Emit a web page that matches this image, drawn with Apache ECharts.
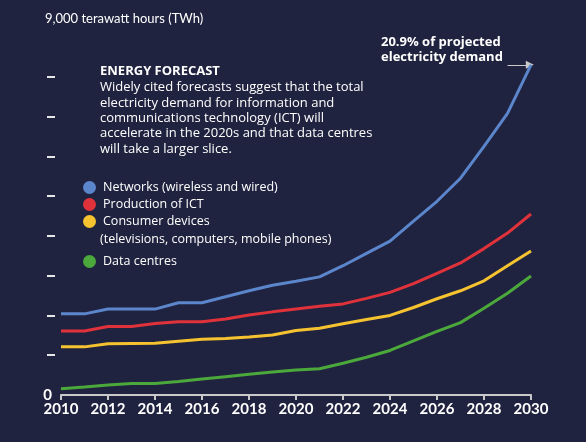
<!DOCTYPE html>
<html>
<head>
<meta charset="utf-8">
<script src="https://cdn.jsdelivr.net/npm/echarts@6/dist/echarts.min.js"></script>
<style>
  html, body { margin: 0; padding: 0; background: #20233f; }
  #chart { width: 586px; height: 442px; }
</style>
</head>
<body>
<div id="chart"></div>
<script>
// data (TWh)
var years = [2010, 2011, 2012, 2013, 2014, 2015, 2016, 2017, 2018, 2019, 2020,
             2021, 2022, 2023, 2024, 2025, 2026, 2027, 2028, 2029, 2030];
var networks = [2040, 2040, 2160, 2160, 2160, 2320, 2320, 2470, 2620, 2760, 2860,
                2970, 3250, 3560, 3870, 4370, 4870, 5450, 6250, 7080, 8300];
var production = [1610, 1610, 1720, 1720, 1800, 1840, 1840, 1910, 2010, 2090, 2160,
                  2230, 2290, 2430, 2580, 2800, 3060, 3320, 3680, 4070, 4550];
var consumer = [1210, 1210, 1290, 1295, 1300, 1350, 1400, 1420, 1460, 1510, 1620,
                1680, 1790, 1900, 2000, 2200, 2420, 2620, 2870, 3250, 3620];
var dataCentres = [160, 200, 250, 290, 290, 340, 400, 460, 520, 580, 630,
                   660, 800, 950, 1120, 1360, 1600, 1820, 2180, 2560, 2990];
var yTickValues = [1000, 2000, 3000, 4000, 5000, 6000, 7000, 8000];
var seriesNames = ['Networks (wireless and wired)', 'Production of ICT',
                   'Consumer devices', 'Data centres'];
var colors = ['#5b86cc', '#e0323a', '#f6c330', '#4ba83b'];

function pairs(vals) {
    var out = [];
    for (var i = 0; i < years.length; i++) out.push([years[i], vals[i]]);
    return out;
}

var font = 'Lato';
var bodyFont = '"Open Sans"';
var chart = echarts.init(document.getElementById('chart'));

var allVals = [networks, production, consumer, dataCentres];
var series = [];
for (var s = 0; s < allVals.length; s++) {
    series.push({
        name: seriesNames[s],
        type: 'line',
        data: pairs(allVals[s]),
        symbol: 'none',
        lineStyle: { width: 3, color: colors[s] },
        itemStyle: { color: colors[s] },
        z: 10 - s
    });
}
// arrow pointing at the 2030 networks value
series[0].markLine = {
    silent: true,
    symbol: ['none', 'triangle'],
    symbolSize: [8, 8],
    lineStyle: { color: '#c8c8c8', type: 'solid', width: 1 },
    label: { show: false },
    data: [[
        { coord: [2029.0, 8300] },
        { coord: [2029.95, 8300] }
    ]]
};

var option = {
    backgroundColor: '#20233f',
    animation: false,
    textStyle: { fontFamily: font },
    grid: { left: 61, right: 55, top: 37, bottom: 47, outerBoundsMode: 'none', containLabel: false },
    xAxis: {
        type: 'value',
        min: 2010, max: 2030, interval: 2,
        splitLine: { show: false },
        axisLine: { lineStyle: { color: '#c9c9c9', width: 2 } },
        axisTick: { show: true, inside: false, length: 5, lineStyle: { color: '#c9c9c9', width: 2 } },
        axisLabel: { color: '#ffffff', fontSize: 15, fontWeight: 'bold', fontFamily: font, margin: 7,
                     formatter: function (v) { return String(v); } }
    },
    yAxis: {
        type: 'value',
        min: 0, max: 9000, interval: 1000,
        offset: 6,
        splitLine: { show: false },
        axisLine: { show: false },
        axisTick: { show: true, length: 8, customValues: yTickValues,
                    lineStyle: { color: '#e6e6e6', width: 2 } },
        name: '9,000 terawatt hours (TWh)',
        nameLocation: 'end',
        nameGap: 12,
        nameTextStyle: { color: '#ffffff', fontSize: 13, fontFamily: font, align: 'left', padding: [0, 0, 0, -10] },
        axisLabel: {
            color: '#ffffff', fontSize: 15, fontWeight: 'bold', fontFamily: font, margin: 3,
            customValues: [0]
        }
    },
    legend: [{
        data: seriesNames.slice(0, 3),
        orient: 'vertical',
        left: 78, top: 176,
        itemWidth: 13, itemHeight: 13, itemGap: 4,
        icon: 'circle',
        textStyle: { color: '#ffffff', fontSize: 12.5, fontFamily: bodyFont, padding: [0, 0, 0, 2] }
    }, {
        data: [seriesNames[3]],
        orient: 'vertical',
        left: 78, top: 250,
        itemWidth: 13, itemHeight: 13,
        icon: 'circle',
        textStyle: { color: '#ffffff', fontSize: 12.5, fontFamily: bodyFont, padding: [0, 0, 0, 2] }
    }],
    graphic: [{
        type: 'text', left: 100, top: 233,
        style: { text: '(televisions, computers, mobile phones)', fill: '#ffffff', font: '12.5px ' + bodyFont }
    }, {
        type: 'text', left: 100, top: 65,
        style: { text: 'ENERGY FORECAST', fill: '#ffffff', font: 'bold 13px ' + bodyFont }
    }, {
        type: 'text', left: 100, top: 80,
        style: {
            text: 'Widely cited forecasts suggest that the total\n' +
                  'electricity demand for information and\n' +
                  'communications technology (ICT) will\n' +
                  'accelerate in the 2020s and that data centres\n' +
                  'will take a larger slice.',
            fill: '#ffffff', font: '13px ' + bodyFont, lineHeight: 15.3
        }
    }, {
        type: 'text', left: 381, top: 35,
        style: {
            text: '20.9% of projected\nelectricity demand',
            fill: '#ffffff', font: 'bold 13px ' + bodyFont, lineHeight: 15
        }
    }],
    series: series
};

chart.setOption(option);
</script>
</body>
</html>
